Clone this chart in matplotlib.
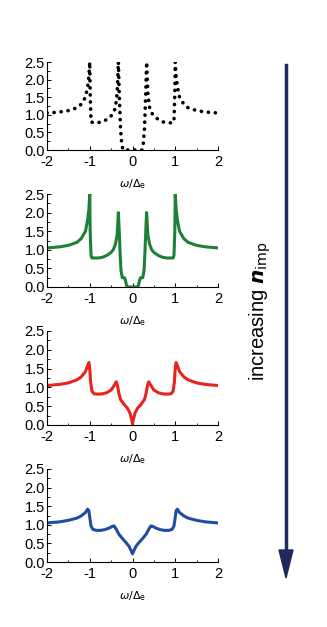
import matplotlib.pyplot as plt
from matplotlib.ticker import MultipleLocator

plt.rcParams['font.family'] = ['Liberation Sans', 'DejaVu Sans']

# densities of states (x = omega/Delta_e)
x_clean = [-2.0, -1.7, -1.5, -1.3, -1.2, -1.1, -1.05, -1.02, -1.0, -0.99, -0.97,
           -0.9, -0.8, -0.7, -0.6, -0.5, -0.45, -0.4, -0.36, -0.33, -0.31, -0.28,
           -0.25, -0.22, -0.1, 0.0, 0.1, 0.22, 0.25, 0.28, 0.31, 0.33, 0.36, 0.4,
           0.45, 0.5, 0.6, 0.7, 0.8, 0.9, 0.97, 0.99, 1.0, 1.02, 1.05, 1.1, 1.2,
           1.3, 1.5, 1.7, 2.0]
y_clean = [1.05, 1.08, 1.12, 1.2, 1.3, 1.5, 1.8, 2.1, 2.5, 1.6, 0.8,
           0.77, 0.78, 0.8, 0.87, 0.97, 1.05, 1.2, 1.6, 2.5, 1.6, 0.6,
           0.15, 0.0, 0.0, 0.0, 0.0, 0.0, 0.15, 0.6, 1.6, 2.5, 1.6, 1.2,
           1.05, 0.97, 0.87, 0.8, 0.78, 0.77, 0.8, 1.6, 2.5, 2.1, 1.8, 1.5, 1.3,
           1.2, 1.12, 1.08, 1.05]

x_low = [-2.0, -1.7, -1.5, -1.3, -1.2, -1.1, -1.05, -1.02, -1.0, -0.99, -0.97,
         -0.95, -0.8, -0.7, -0.6, -0.5, -0.45, -0.4, -0.36, -0.33, -0.31, -0.29,
         -0.27, -0.24, -0.19, -0.17, -0.14, -0.12, 0.0, 0.12, 0.14, 0.17, 0.19,
         0.24, 0.27, 0.29, 0.31, 0.33, 0.36, 0.4, 0.45, 0.5, 0.6, 0.7, 0.8,
         0.95, 0.97, 0.99, 1.0, 1.02, 1.05, 1.1, 1.2, 1.3, 1.5, 1.7, 2.0]
y_low = [1.05, 1.08, 1.12, 1.2, 1.3, 1.5, 1.8, 2.1, 2.5, 1.5, 0.85,
         0.78, 0.78, 0.8, 0.85, 0.93, 1.0, 1.15, 1.4, 2.0, 1.5, 0.9,
         0.45, 0.25, 0.25, 0.2, 0.05, 0.0, 0.0, 0.0, 0.05, 0.2, 0.25,
         0.25, 0.45, 0.9, 1.5, 2.0, 1.4, 1.15, 1.0, 0.93, 0.85, 0.8, 0.78,
         0.78, 0.85, 1.5, 2.5, 2.1, 1.8, 1.5, 1.3, 1.2, 1.12, 1.08, 1.05]

x_mid = [-2.0, -1.7, -1.5, -1.3, -1.2, -1.1, -1.05, -1.02, -1.0, -0.98, -0.95,
         -0.9, -0.8, -0.7, -0.6, -0.5, -0.43, -0.38, -0.35, -0.32, -0.28, -0.2,
         -0.12, -0.06, -0.02, 0.0, 0.02, 0.06, 0.12, 0.2, 0.28, 0.32, 0.35,
         0.38, 0.43, 0.5, 0.6, 0.7, 0.8, 0.9, 0.95, 0.98, 1.0, 1.02, 1.05, 1.1,
         1.2, 1.3, 1.5, 1.7, 2.0]
y_mid = [1.05, 1.08, 1.12, 1.2, 1.28, 1.42, 1.58, 1.66, 1.5, 1.15, 0.9,
         0.83, 0.82, 0.83, 0.86, 0.93, 1.05, 1.15, 1.05, 0.85, 0.68, 0.55,
         0.45, 0.32, 0.15, 0.03, 0.15, 0.32, 0.45, 0.55, 0.68, 0.85, 1.05,
         1.15, 1.05, 0.93, 0.86, 0.83, 0.82, 0.83, 0.9, 1.15, 1.5, 1.66, 1.58,
         1.42, 1.28, 1.2, 1.12, 1.08, 1.05]

x_high = [-2.0, -1.7, -1.5, -1.3, -1.2, -1.1, -1.05, -1.02, -1.0, -0.97, -0.93,
          -0.85, -0.75, -0.65, -0.55, -0.47, -0.43, -0.38, -0.32, -0.25, -0.15,
          -0.08, -0.03, 0.0, 0.03, 0.08, 0.15, 0.25, 0.32, 0.38, 0.43, 0.47,
          0.55, 0.65, 0.75, 0.85, 0.93, 0.97, 1.0, 1.02, 1.05, 1.1, 1.2, 1.3,
          1.5, 1.7, 2.0]
y_high = [1.05, 1.08, 1.12, 1.18, 1.24, 1.33, 1.42, 1.38, 1.2, 0.97, 0.88,
          0.85, 0.85, 0.87, 0.91, 0.96, 0.97, 0.88, 0.75, 0.65, 0.52,
          0.42, 0.3, 0.22, 0.3, 0.42, 0.52, 0.65, 0.75, 0.88, 0.97, 0.96,
          0.91, 0.87, 0.85, 0.85, 0.88, 0.97, 1.2, 1.38, 1.42, 1.33, 1.24, 1.18,
          1.12, 1.08, 1.05]

xticks = [-2, -1, 0, 1, 2]
yticks = [0.0, 0.5, 1.0, 1.5, 2.0, 2.5]

W, H = 327, 627
fig = plt.figure(figsize=(W / 100, H / 100), dpi=100)

# axes boxes in pixels: left, top, right, bottom
boxes = [(47, 62, 218, 150), (47, 194, 218, 287), (47, 331, 218, 425), (47, 469, 218, 562)]
curves = [(x_clean, y_clean, 'black', (0, (0.05, 1.9)), 2.6),
          (x_low, y_low, '#1e8035', '-', 2.2),
          (x_mid, y_mid, '#e8231c', '-', 2.2),
          (x_high, y_high, '#1f4e9e', '-', 2.2)]

for (l, t, r, b), (xs, ys, c, ls, lw) in zip(boxes, curves):
    ax = fig.add_axes([l / W, 1 - b / H, (r - l) / W, (b - t) / H])
    ax.plot(xs, ys, color=c, ls=ls, lw=lw, solid_joinstyle='round',
            dash_capstyle='round')
    ax.set_xlim(-2, 2)
    ax.set_ylim(0, 2.5)
    ax.set_xticks(xticks)
    ax.set_yticks(yticks)
    ax.set_xticklabels([str(v) for v in xticks])
    ax.set_yticklabels([f'{v:.1f}' for v in yticks])
    ax.xaxis.set_minor_locator(MultipleLocator(0.5))
    ax.yaxis.set_minor_locator(MultipleLocator(0.25))
    ax.tick_params(direction='in', length=3, width=0.7, labelsize=10.5)
    ax.tick_params(axis='y', pad=1.5)
    ax.tick_params(axis='x', pad=3.5)
    ax.tick_params(which='minor', direction='in', length=1.8, width=0.6)
    for s in ['top', 'right']:
        ax.spines[s].set_visible(False)
    for s in ['left', 'bottom']:
        ax.spines[s].set_linewidth(0.8)
    ax.set_xlabel(r'$\omega/\Delta_{\rm e}$', fontsize=8, labelpad=6,
                  family='DejaVu Serif')

# arrow on the right
fig.add_artist(plt.Line2D([286 / W, 286 / W], [1 - 65 / H, 1 - 555 / H],
                          color='#1f2a5c', lw=2.5))
fig.patches.append(plt.Polygon([[279 / W, 1 - 550 / H], [293 / W, 1 - 550 / H],
                                [286 / W, 1 - 578 / H]], closed=True,
                               color='#1f2a5c', transform=fig.transFigure,
                               figure=fig))
fig.text(260 / W, 1 - 311 / H, r'increasing $\boldsymbol{n}_{\rm imp}$',
         rotation=90, ha='center', va='center', fontsize=14.5)

fig.savefig('out.png', dpi=100)
